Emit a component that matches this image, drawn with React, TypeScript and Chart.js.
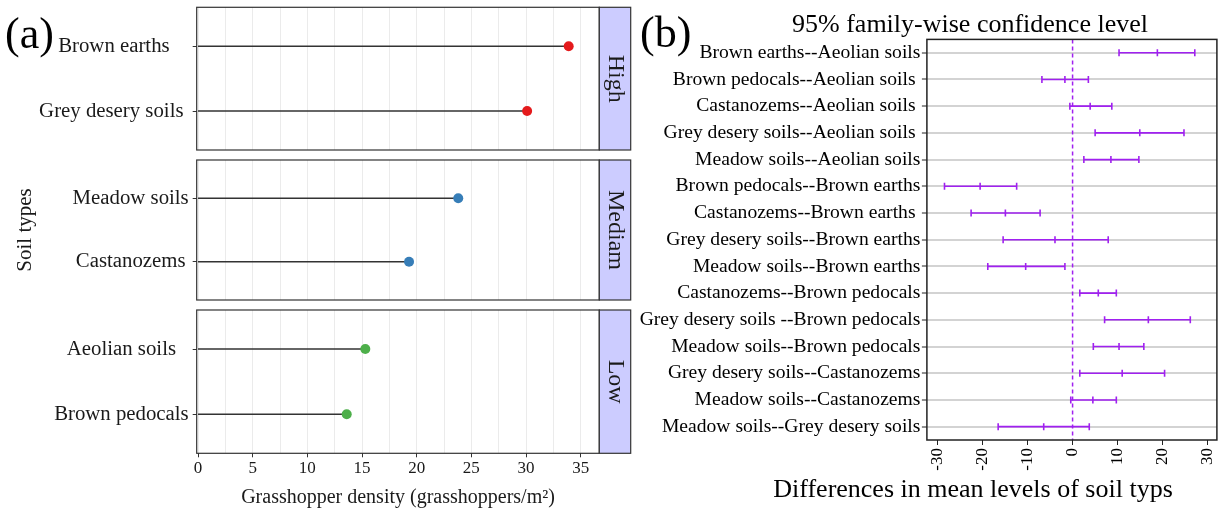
import React, { useEffect, useRef } from 'react';
import { Chart, registerables } from 'chart.js';

Chart.register(...registerables);

const SERIF = "'Liberation Serif', 'Times New Roman', Times, serif";

// ---------- Panel (a) data ----------
const facetLabels = ['High', 'Mediam', 'Low'];
const highSoils = ['Brown earths', 'Grey desery soils '];
const highDensity = [33.9, 30.1];
const mediumSoils = ['Meadow soils', 'Castanozems'];
const mediumDensity = [23.8, 19.3];
const lowSoils = ['Aeolian soils', 'Brown pedocals'];
const lowDensity = [15.3, 13.6];
const facetColors = ['#E41A1C', '#377EB8', '#4DAF4A'];
const densityTickLabels = [0, 5, 10, 15, 20, 25, 30, 35];
const densityGridLines = [0, 2.5, 5, 7.5, 10, 12.5, 15, 17.5, 20, 22.5, 25, 27.5, 30, 32.5, 35];

// ---------- Panel (b) data ----------
const comparisons = [
  'Brown earths--Aeolian soils',
  'Brown pedocals--Aeolian soils ',
  'Castanozems--Aeolian soils ',
  'Grey desery soils--Aeolian soils ',
  'Meadow soils--Aeolian soils',
  'Brown pedocals--Brown earths',
  'Castanozems--Brown earths ',
  'Grey desery soils--Brown earths',
  'Meadow soils--Brown earths',
  'Castanozems--Brown pedocals',
  'Grey desery soils --Brown pedocals',
  'Meadow soils--Brown pedocals',
  'Grey desery soils--Castanozems',
  'Meadow soils--Castanozems',
  'Meadow soils--Grey desery soils',
];
const diffLower = [10.3, -6.8, -0.6, 5.0, 2.5, -28.4, -22.5, -15.4, -18.8, 1.6, 7.1, 4.6, 1.6, -0.4, -16.5];
const diffMean = [18.8, -1.7, 3.9, 14.9, 8.5, -20.5, -14.9, -3.9, -10.4, 5.7, 16.8, 10.3, 11.0, 4.5, -6.4];
const diffUpper = [27.1, 3.5, 8.7, 24.7, 14.7, -12.4, -7.2, 7.9, -1.7, 9.7, 26.1, 15.8, 20.4, 9.7, 3.7];
const diffTicks = [-30, -20, -10, 0, 10, 20, 30];
const zeroDifference = 0;
const tukeyTitle = '95% family-wise confidence level';
const tukeyXLabel = 'Differences in mean levels of soil typs';

const PURPLE = '#A020F0';

// ---------- plugins ----------
function makeFrame(color: string, width: number) {
  return {
    id: 'frame',
    afterDatasetsDraw(chart: any) {
      const { ctx, chartArea: a } = chart;
      ctx.save();
      ctx.strokeStyle = color;
      ctx.lineWidth = width;
      ctx.strokeRect(a.left, a.top, a.right - a.left, a.bottom - a.top);
      ctx.restore();
    },
  };
}

function makeStrip(label: string) {
  return {
    id: 'strip',
    afterDraw(chart: any) {
      const { ctx, chartArea: a } = chart;
      const w = 31.4;
      ctx.save();
      ctx.fillStyle = '#CCCCFF';
      ctx.fillRect(a.right, a.top, w, a.bottom - a.top);
      ctx.strokeStyle = '#333333';
      ctx.lineWidth = 1.2;
      ctx.strokeRect(a.right, a.top, w, a.bottom - a.top);
      ctx.translate(a.right + w / 2, (a.top + a.bottom) / 2);
      ctx.rotate(Math.PI / 2);
      ctx.fillStyle = '#1a1a1a';
      ctx.font = `24px ${SERIF}`;
      ctx.textAlign = 'center';
      ctx.textBaseline = 'middle';
      ctx.fillText(label, 0, 0);
      ctx.restore();
    },
  };
}

function makeTag(text: string, x: number, y: number) {
  return {
    id: 'panelTag',
    afterDraw(chart: any) {
      const { ctx } = chart;
      ctx.save();
      ctx.fillStyle = '#000';
      ctx.font = `44px ${SERIF}`;
      ctx.textAlign = 'left';
      ctx.textBaseline = 'alphabetic';
      ctx.fillText(text, x, y);
      ctx.restore();
    },
  };
}

// title and axis caption of the Tukey plot (centred on the figure column, as in the original)
function makeCaptions(items: { text: string; x: number; y: number; size: number }[]) {
  return {
    id: 'captions',
    afterDraw(chart: any) {
      const { ctx } = chart;
      ctx.save();
      ctx.fillStyle = '#000';
      ctx.textAlign = 'center';
      ctx.textBaseline = 'middle';
      for (const it of items) {
        ctx.font = `${it.size}px ${SERIF}`;
        ctx.fillText(it.text, it.x, it.y);
      }
      ctx.restore();
    },
  };
}

function makeRefLine(value: number) {
  return {
    id: 'refLine',
    beforeDatasetsDraw(chart: any) {
      const { ctx, chartArea: a, scales } = chart;
      const px = scales.x.getPixelForValue(value);
      ctx.save();
      ctx.strokeStyle = PURPLE;
      ctx.lineWidth = 1.5;
      ctx.setLineDash([4, 3]);
      ctx.beginPath();
      ctx.moveTo(px, a.top);
      ctx.lineTo(px, a.bottom);
      ctx.stroke();
      ctx.restore();
    },
  };
}

const noPad = (s: any) => {
  s.paddingTop = 0;
  s.paddingBottom = 0;
  s.paddingLeft = 0;
  s.paddingRight = 0;
};

// ---------- configs ----------
function facetConfig(o: any) {
  const { soils, values, color, strip, padTop, padBottom, xHeight, showX, yTitle, tag } = o;
  const datasets = soils.map((_: string, i: number) => ({
    data: [
      { x: 0, y: i + 1 },
      { x: values[i], y: i + 1 },
    ],
    borderColor: '#333333',
    borderWidth: 1.5,
    pointRadius: [0, 5],
    pointHoverRadius: [0, 5],
    pointBackgroundColor: color,
    pointBorderColor: color,
    pointBorderWidth: 0,
    clip: false,
  }));
  const plugins: any[] = [makeFrame('#333333', 1.2), makeStrip(strip)];
  if (tag) plugins.push(makeTag(tag, 5, 48));
  return {
    type: 'line',
    data: { datasets },
    options: {
      responsive: false,
      animation: false,
      events: [],
      layout: { padding: { left: 0, right: 640 - 599.3, top: padTop, bottom: padBottom } },
      plugins: { legend: { display: false }, tooltip: { enabled: false } },
      scales: {
        x: {
          type: 'linear',
          min: -0.12,
          max: 36.7,
          bounds: 'data',
          afterBuildTicks: (s: any) => {
            s.ticks = densityGridLines.map((v) => ({ value: v }));
          },
          afterFit: (s: any) => {
            s.height = xHeight;
            noPad(s);
          },
          border: { display: false },
          grid: {
            color: '#EBEBEB',
            lineWidth: 1,
            drawTicks: showX,
            tickLength: 4,
            tickWidth: 1,
            tickColor: (c: any) =>
              c.tick && densityTickLabels.includes(c.tick.value) ? '#333333' : 'rgba(0,0,0,0)',
          },
          ticks: {
            display: showX,
            autoSkip: false,
            maxRotation: 0,
            padding: 1,
            color: '#1a1a1a',
            font: { family: SERIF, size: 17 },
            callback: (v: number) => (densityTickLabels.includes(v) ? String(v) : ''),
          },
          title: {
            display: showX,
            text: 'Grasshopper density (grasshoppers/m²)',
            color: '#1a1a1a',
            font: { family: SERIF, size: 20 },
            padding: { top: 0, bottom: 0 },
          },
        },
        y: {
          type: 'linear',
          reverse: true,
          min: 0.4,
          max: 2.6,
          bounds: 'data',
          afterBuildTicks: (s: any) => {
            s.ticks = soils.map((_: string, i: number) => ({ value: i + 1 }));
          },
          afterFit: (s: any) => {
            s.width = 196.7;
            noPad(s);
          },
          border: { display: false },
          grid: { drawOnChartArea: false, drawTicks: true, tickLength: 4, tickColor: '#333333', tickWidth: 1 },
          ticks: {
            crossAlign: 'center',
            padding: 4,
            color: '#1a1a1a',
            font: { family: SERIF, size: 20.8 },
            callback: (v: number) => soils[v - 1] ?? '',
          },
          title: {
            display: !!yTitle,
            text: yTitle || '',
            color: '#1a1a1a',
            font: { family: SERIF, size: 21 },
            padding: { top: 12.4, bottom: 0 },
          },
        },
      },
    },
    plugins,
  };
}

function tukeyConfig() {
  const datasets = comparisons.map((_, i) => ({
    data: [
      { x: diffLower[i], y: i + 1 },
      { x: diffMean[i], y: i + 1 },
      { x: diffUpper[i], y: i + 1 },
    ],
    borderColor: PURPLE,
    borderWidth: 1.6,
    pointStyle: 'line',
    pointRotation: 90,
    pointRadius: 3.5,
    pointHoverRadius: 3.5,
    pointBorderWidth: 1.6,
    pointBorderColor: PURPLE,
    pointBackgroundColor: PURPLE,
  }));
  return {
    type: 'line',
    data: { datasets },
    options: {
      responsive: false,
      animation: false,
      events: [],
      layout: { padding: { left: 0, right: 2.1, top: 39.4, bottom: 0 } },
      plugins: {
        legend: { display: false },
        tooltip: { enabled: false },
      },
      scales: {
        x: {
          type: 'linear',
          min: -32.3,
          max: 32.0,
          bounds: 'data',
          afterBuildTicks: (s: any) => {
            s.ticks = diffTicks.map((v) => ({ value: v }));
          },
          afterFit: (s: any) => {
            s.height = 70;
            noPad(s);
          },
          border: { display: false },
          grid: { drawOnChartArea: false, drawTicks: true, tickLength: 5, tickColor: '#222', tickWidth: 1 },
          ticks: {
            autoSkip: false,
            minRotation: 90,
            maxRotation: 90,
            padding: 3,
            color: '#000',
            font: { family: SERIF, size: 17 },
            callback: (v: number) => String(v),
          },
        },
        y: {
          type: 'linear',
          reverse: true,
          min: 0.5,
          max: 15.5,
          bounds: 'data',
          afterBuildTicks: (s: any) => {
            s.ticks = comparisons.map((_, i) => ({ value: i + 1 }));
          },
          afterFit: (s: any) => {
            s.width = 286.9;
            noPad(s);
          },
          border: { display: false },
          grid: { color: '#D3D3D3', lineWidth: 2, drawTicks: true, tickLength: 5, tickColor: '#222', tickWidth: 1 },
          ticks: {
            autoSkip: false,
            padding: 1.5,
            color: '#000',
            font: { family: SERIF, size: 19.6 },
            callback: (v: number) => comparisons[v - 1] ?? '',
          },
        },
      },
    },
    plugins: [
      makeRefLine(zeroDifference),
      makeFrame('#222222', 1.5),
      makeTag('(b)', 0, 47),
      makeCaptions([
        { text: tukeyTitle, x: 330, y: 25.5, size: 26 },
        { text: tukeyXLabel, x: 333, y: 490, size: 26 },
      ]),
    ],
  };
}

export default function App() {
  const c1 = useRef<HTMLCanvasElement>(null);
  const c2 = useRef<HTMLCanvasElement>(null);
  const c3 = useRef<HTMLCanvasElement>(null);
  const cb = useRef<HTMLCanvasElement>(null);

  useEffect(() => {
    document.body.style.margin = '0';
    const charts: Chart[] = [];
    charts.push(
      new Chart(
        c1.current as HTMLCanvasElement,
        facetConfig({
          soils: highSoils, values: highDensity, color: facetColors[0], strip: facetLabels[0],
          padTop: 7.3, padBottom: 4.3, xHeight: 0, showX: false, tag: '(a)',
        }) as any
      )
    );
    charts.push(
      new Chart(
        c2.current as HTMLCanvasElement,
        facetConfig({
          soils: mediumSoils, values: mediumDensity, color: facetColors[1], strip: facetLabels[1],
          padTop: 3.3, padBottom: 3, xHeight: 0, showX: false, yTitle: 'Soil types',
        }) as any
      )
    );
    charts.push(
      new Chart(
        c3.current as HTMLCanvasElement,
        facetConfig({
          soils: lowSoils, values: lowDensity, color: facetColors[2], strip: facetLabels[2],
          padTop: 4.3, padBottom: 0, xHeight: 56.7, showX: true,
        }) as any
      )
    );
    charts.push(new Chart(cb.current as HTMLCanvasElement, tukeyConfig() as any));
    return () => charts.forEach((c) => c.destroy());
  }, []);

  const abs = (left: number, top: number): React.CSSProperties => ({
    position: 'absolute', left, top, display: 'block',
  });

  return (
    <div style={{ position: 'absolute', left: 0, top: 0, width: 1222, height: 510, background: '#fff' }}>
      <canvas ref={c1} width={640} height={155} style={abs(0, 0)} />
      <canvas ref={c2} width={640} height={150} style={abs(0, 155)} />
      <canvas ref={c3} width={640} height={205} style={abs(0, 305)} />
      <canvas ref={cb} width={582} height={510} style={abs(640, 0)} />
    </div>
  );
}
